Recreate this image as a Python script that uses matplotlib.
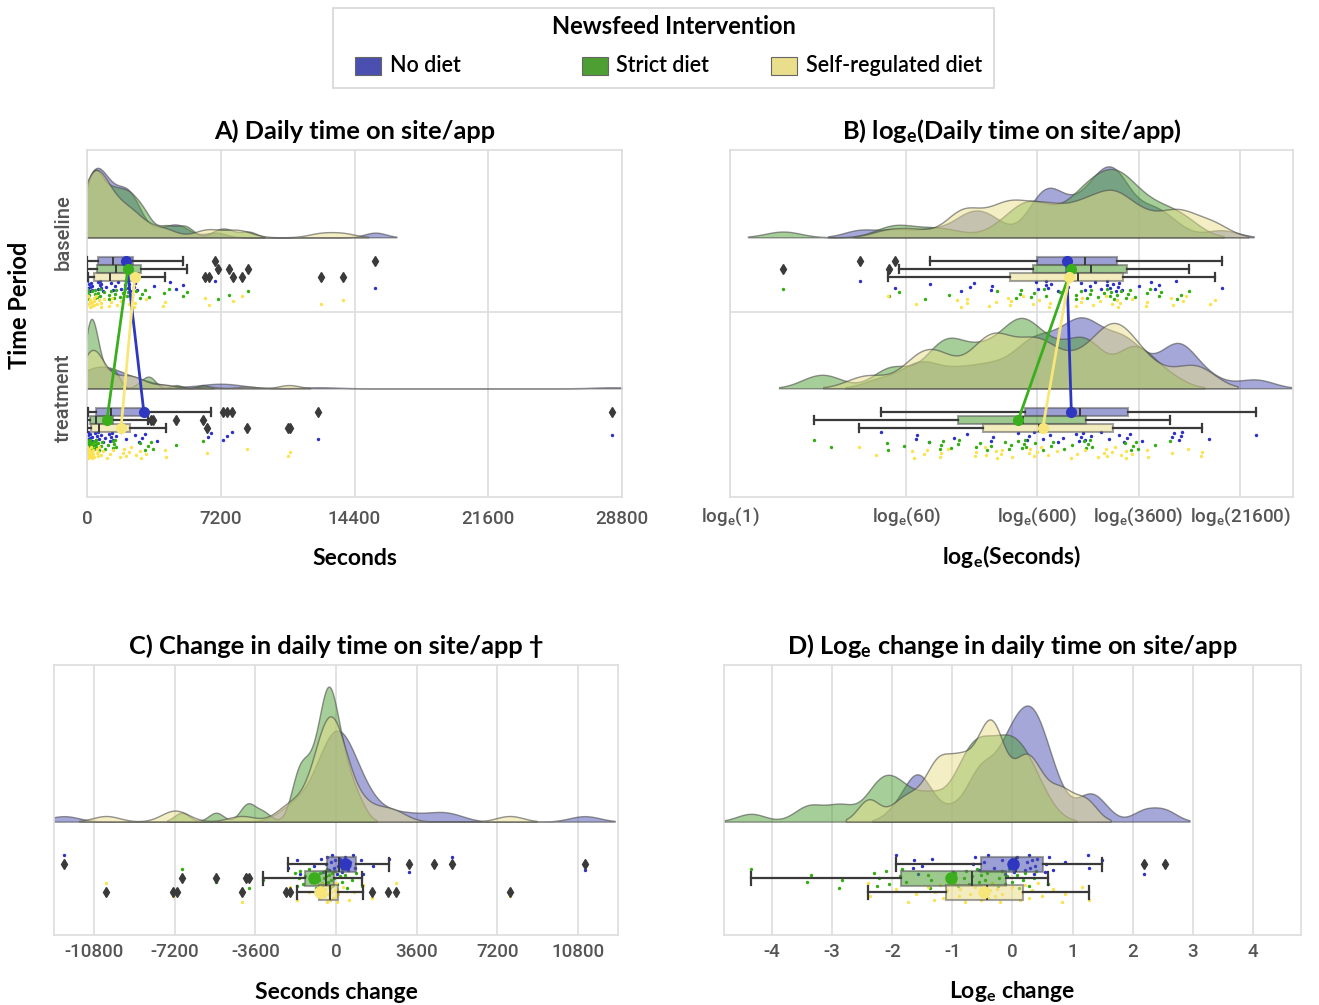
import numpy as np
import matplotlib
matplotlib.use('Agg')
import matplotlib.pyplot as plt
from matplotlib.patches import Rectangle
from matplotlib.colors import to_rgba

plt.rcParams['font.family'] = ['Lato', 'DejaVu Sans']
plt.rcParams['mathtext.default'] = 'regular'

groups = ['No diet', 'Strict diet', 'Self-regulated diet']
periods = ['baseline', 'treatment']
palette = ['#4b50b0', '#4d9e33', '#e9de8b']
dot_colors = ['#2a30c8', '#33ad12', '#fbe24e']
mean_colors = ['#2f37c0', '#3aae1d', '#f7e77a']

# ln(seconds per day), one value per participant
base_no = [3.28, 3.90, 4.52, 5.05, 5.22, 5.28, 5.59, 5.60, 6.38, 6.41, 6.55, 6.55,
           6.60, 6.65, 6.77, 6.95, 7.17, 7.25, 7.33, 7.42, 7.52, 7.63, 7.64, 7.69,
           7.73, 7.79, 7.83, 7.85, 7.90, 8.19, 8.40, 8.48, 8.55, 8.84, 9.65]
base_strict = [1.92, 3.78, 3.97, 4.43, 4.85, 5.69, 6.03, 6.10, 6.12, 6.29, 6.35, 6.52,
               6.55, 6.80, 7.08, 7.09, 7.17, 7.27, 7.33, 7.35, 7.47, 7.58, 7.63, 7.68,
               7.71, 7.76, 7.80, 7.88, 7.96, 8.00, 8.04, 8.12, 8.33, 8.39, 8.55, 8.59,
               8.86, 8.94, 9.07]
base_self = [3.77, 4.26, 4.98, 5.05, 5.16, 5.17, 5.55, 5.67, 5.88, 5.93, 5.94, 6.15,
             6.32, 6.44, 6.61, 6.63, 6.81, 7.08, 7.17, 7.19, 7.39, 7.51, 7.61, 7.72,
             7.80, 7.83, 7.86, 8.07, 8.32, 8.34, 8.76, 8.79, 8.97, 9.03, 9.44, 9.53]
treat_no = [3.65, 4.27, 4.28, 4.50, 4.93, 5.16, 5.58, 5.62, 6.07, 6.22, 6.25, 6.34,
            6.51, 6.63, 6.76, 6.86, 7.08, 7.14, 7.17, 7.20, 7.25, 7.35, 7.52, 7.66,
            7.85, 7.93, 7.99, 8.04, 8.24, 8.78, 8.81, 8.90, 8.93, 8.96, 9.43, 10.25]
treat_strict = [2.46, 2.76, 3.75, 3.77, 4.06, 4.49, 4.69, 4.71, 4.74, 4.88, 5.00, 5.02,
                5.33, 5.40, 5.51, 5.58, 5.83, 5.91, 5.94, 6.07, 6.14, 6.16, 6.19, 6.20,
                6.37, 6.51, 6.65, 6.68, 6.87, 7.01, 7.23, 7.26, 7.30, 7.33, 7.36, 7.95,
                8.05, 8.09, 8.15, 8.17, 8.48, 8.74]
treat_self = [3.26, 3.56, 4.19, 4.23, 4.40, 4.45, 4.68, 4.71, 4.82, 5.31, 5.32, 5.48,
              5.50, 5.67, 5.69, 5.76, 5.78, 5.96, 6.25, 6.27, 6.35, 6.40, 6.46, 6.60,
              6.75, 6.99, 7.11, 7.25, 7.47, 7.58, 7.61, 7.64, 7.72, 7.78, 7.87, 7.96,
              7.97, 8.07, 8.34, 8.35, 8.77, 9.06, 9.29, 9.30]

# change in daily seconds (panel C)
chg_no = [-12148, -2140, -1738, -1609, -965, -676, -563, -451, -402, -322, -241,
          -161, -80, -32, 32, 80, 161, 274, 322, 402, 515, 644, 772, 837, 1126,
          1207, 1641, 2381, 3266, 4393, 5197, 11102]
chg_strict = [-6887, -5358, -4023, -3862, -3250, -1850, -1750, -1650, -1609, -1480,
              -1368, -1207, -1094, -998, -885, -772, -700, -644, -515, -483, -451,
              -450, -380, -354, -322, -250, -241, -180, -161, -80, -32, 32, 161, 250,
              290, 420, 483, 692, 885, 1158]
chg_self = [-10265, -7289, -7080, -4216, -2253, -2043, -1738, -1207, -756, -724,
            -676, -611, -547, -483, -418, -354, -322, -290, -241, -193, -129, -64,
            -16, 16, 48, 64, 97, 322, 563, 805, 1207, 1609, 2333, 2687, 7755]

# ln change in daily time (panel D)
lchg_no = [-1.93, -1.65, -1.64, -1.58, -1.51, -1.34, -0.99, -0.65, -0.63, -0.55,
           -0.47, -0.40, -0.30, -0.18, -0.13, -0.04, 0.00, 0.02, 0.04, 0.07, 0.20,
           0.24, 0.27, 0.29, 0.32, 0.35, 0.38, 0.41, 0.54, 0.56, 0.61, 0.67, 0.88,
           1.25, 1.27, 1.49, 2.19, 2.54]
lchg_strict = [-4.35, -3.42, -3.35, -2.88, -2.84, -2.30, -2.26, -2.22, -2.10, -2.06,
               -1.88, -1.84, -1.77, -1.40, -1.37, -1.35, -0.95, -0.90, -0.80, -0.78,
               -0.72, -0.68, -0.59, -0.55, -0.52, -0.48, -0.45, -0.43, -0.24, -0.22,
               -0.18, -0.13, -0.09, -0.06, -0.01, 0.07, 0.10, 0.18, 0.21, 0.27, 0.35,
               0.39, 0.59]
lchg_self = [-2.41, -2.37, -1.94, -1.74, -1.61, -1.40, -1.31, -1.29, -1.20, -1.15,
             -1.09, -0.95, -0.89, -0.87, -0.79, -0.70, -0.62, -0.52, -0.48, -0.44,
             -0.40, -0.37, -0.34, -0.29, -0.26, -0.21, -0.18, -0.01, 0.13, 0.16,
             0.21, 0.27, 0.32, 0.43, 0.49, 0.68, 0.83, 0.88, 1.16, 1.27]

base_log = [np.array(base_no), np.array(base_strict), np.array(base_self)]
treat_log = [np.array(treat_no), np.array(treat_strict), np.array(treat_self)]
base_sec = [np.exp(a) for a in base_log]
treat_sec = [np.exp(a) for a in treat_log]
chg = [np.array(chg_no), np.array(chg_strict), np.array(chg_self)]
lchg = [np.array(lchg_no), np.array(lchg_strict), np.array(lchg_self)]

DODGE = 0.052
GRID = '#dddddd'
DARK = '#3a3a3a'


def kde(vals, bw=0.2, cut=2, n=300):
    sd = vals.std(ddof=1) * bw
    grid = np.linspace(vals.min() - cut * sd, vals.max() + cut * sd, n)
    dens = np.exp(-0.5 * ((grid[:, None] - vals[None, :]) / sd) ** 2).sum(1)
    return grid, dens / (len(vals) * sd * np.sqrt(2 * np.pi))


def raincloud(ax, rows, height, move):
    for pos, arrs in rows:
        curves = [kde(a) for a in arrs]
        top = max(d.max() for g, d in curves)  # area scaling within each row
        base = pos - 0.21
        for k, (g, d) in enumerate(curves):
            ax.fill_between(g, base, base - d / top * height, facecolor=to_rgba(palette[k], 0.5),
                            edgecolor=(0.3, 0.3, 0.3, 0.6), lw=1, zorder=1)
        for k, a in enumerate(arrs):
            y = pos + (k - 1) * DODGE
            jit = ((np.arange(len(a)) * 7 % 11) / 10 - 0.5) * 0.07
            ax.scatter(a, y + move + jit, s=6, color=dot_colors[k], lw=0, zorder=2)
            ax.boxplot(a, positions=[y], widths=0.055, orientation='horizontal',
                       patch_artist=True, manage_ticks=False, capwidths=0.05,
                       boxprops=dict(facecolor=to_rgba(palette[k], 0.55),
                                     edgecolor=(0.35, 0.35, 0.35, 0.55), lw=1.5),
                       whiskerprops=dict(color=DARK, lw=1.6),
                       capprops=dict(color=DARK, lw=1.6),
                       medianprops=dict(color=DARK, lw=1.4),
                       flierprops=dict(marker='d', markerfacecolor=DARK,
                                       markeredgecolor=DARK, markersize=5),
                       zorder=3)


def style(ax, xlim, ticks, labels, title, xlabel, tpad, lpad):
    ax.set_xlim(*xlim)
    ax.set_xticks(ticks, labels=labels)
    ax.grid(axis='x', color=GRID, lw=1.2, zorder=0)
    ax.set_axisbelow(True)
    for s in ax.spines.values():
        s.set_color(GRID)
        s.set_linewidth(1.2)
    ax.tick_params(length=0, labelsize=13.5, labelcolor='#555555', pad=tpad)
    for lbl in ax.get_xticklabels():
        lbl.set_family(['Roboto', 'DejaVu Sans'])
        lbl.set_weight('medium')
    ax.set_title(title, fontsize=18.3, fontweight='bold', pad=8)
    ax.set_xlabel(xlabel, fontsize=16.5, fontweight='bold', labelpad=lpad)


fig = plt.figure(figsize=(13.19, 10.05), dpi=100)
axA = fig.add_axes([0.06596, 0.50547, 0.40561, 0.34527])
axB = fig.add_axes([0.55345, 0.50547, 0.42684, 0.34527])
axC = fig.add_axes([0.04094, 0.06965, 0.42760, 0.26866])
axD = fig.add_axes([0.54890, 0.06965, 0.43745, 0.26866])

# A and B: two periods, means joined between periods
for ax, b, t, h in [(axA, base_sec, treat_sec, 0.46), (axB, base_log, treat_log, 0.47)]:
    raincloud(ax, [(0, b), (1, t)], h, 0.165)
    for k in range(3):
        ax.plot([b[k].mean(), t[k].mean()], [(k - 1) * DODGE, 1 + (k - 1) * DODGE],
                color=mean_colors[k], lw=2, marker='o', ms=7, zorder=5)
    ax.set_ylim(1.51, -0.788)
    ax.axhline(0.285, color=GRID, lw=1.2, zorder=0)
    ax.set_yticks([])

style(axA, (0, 28800), [0, 7200, 14400, 21600, 28800],
      ['0', '7200', '14400', '21600', '28800'],
      'A) Daily time on site/app', 'Seconds', 9, 15)
axA.set_yticks([-0.245, 0.85], labels=periods)
axA.tick_params(axis='y', labelrotation=90, labelsize=14.5, pad=10)
for lbl in axA.get_yticklabels():
    lbl.set_va('center')
    lbl.set_family(['Roboto', 'DejaVu Sans'])
    lbl.set_weight('medium')

secs = [60, 600, 3600, 21600]
style(axB, (0.986, 10.91), [0.986] + list(np.log(secs)),
      ['$log_e$(1)'] + ['$log_e$(%d)' % s for s in secs],
      'B) $log_e$(Daily time on site/app)', '$log_e$(Seconds)', 6, 11)

# C and D: change between periods, single row
for ax, data, h in [(axC, chg, 0.50), (axD, lchg, 0.43)]:
    raincloud(ax, [(0, data)], h, 0.0)
    for k in range(3):
        ax.plot(data[k].mean(), (k - 1) * DODGE, 'o', color=mean_colors[k], ms=8, zorder=5)
    ax.set_ylim(0.21, -0.79)
    ax.set_yticks([])

cticks = [-10800, -7200, -3600, 0, 3600, 7200, 10800]
style(axC, (-12590, 12590), cticks, [str(v) for v in cticks],
      'C) Change in daily time on site/app \u2020', 'Seconds change', 6, 15)
dticks = [-4, -3, -2, -1, 0, 1, 2, 3, 4]
style(axD, (-4.8, 4.8), dticks, [str(v) for v in dticks],
      'D) $Log_e$ change in daily time on site/app', '$Log_e$ change', 6, 13)

fig.text(20 / 1319, 1 - 305 / 1005, 'Time Period', rotation=90, fontsize=17,
         fontweight='bold', ha='center', va='center')

# legend box at the top
W, H = 1319, 1005
fig.add_artist(Rectangle((333 / W, 1 - 88 / H), 661 / W, 80 / H, transform=fig.transFigure,
                         facecolor='white', edgecolor='#d5d5d5', lw=1.2))
fig.text(674 / W, 1 - 27 / H, 'Newsfeed Intervention', fontsize=17, fontweight='bold',
         ha='center', va='center')
for k, (px, tx) in enumerate([(355, 390), (582, 616), (771, 806)]):
    fig.add_artist(Rectangle((px / W, 1 - 75 / H), 26 / W, 18 / H, transform=fig.transFigure,
                             facecolor=palette[k], edgecolor='#666666', lw=0.8))
    fig.text(tx / W, 1 - 66 / H, groups[k], fontsize=15.5, fontweight='semibold',
             ha='left', va='center')

fig.savefig('out.png', dpi=100)
